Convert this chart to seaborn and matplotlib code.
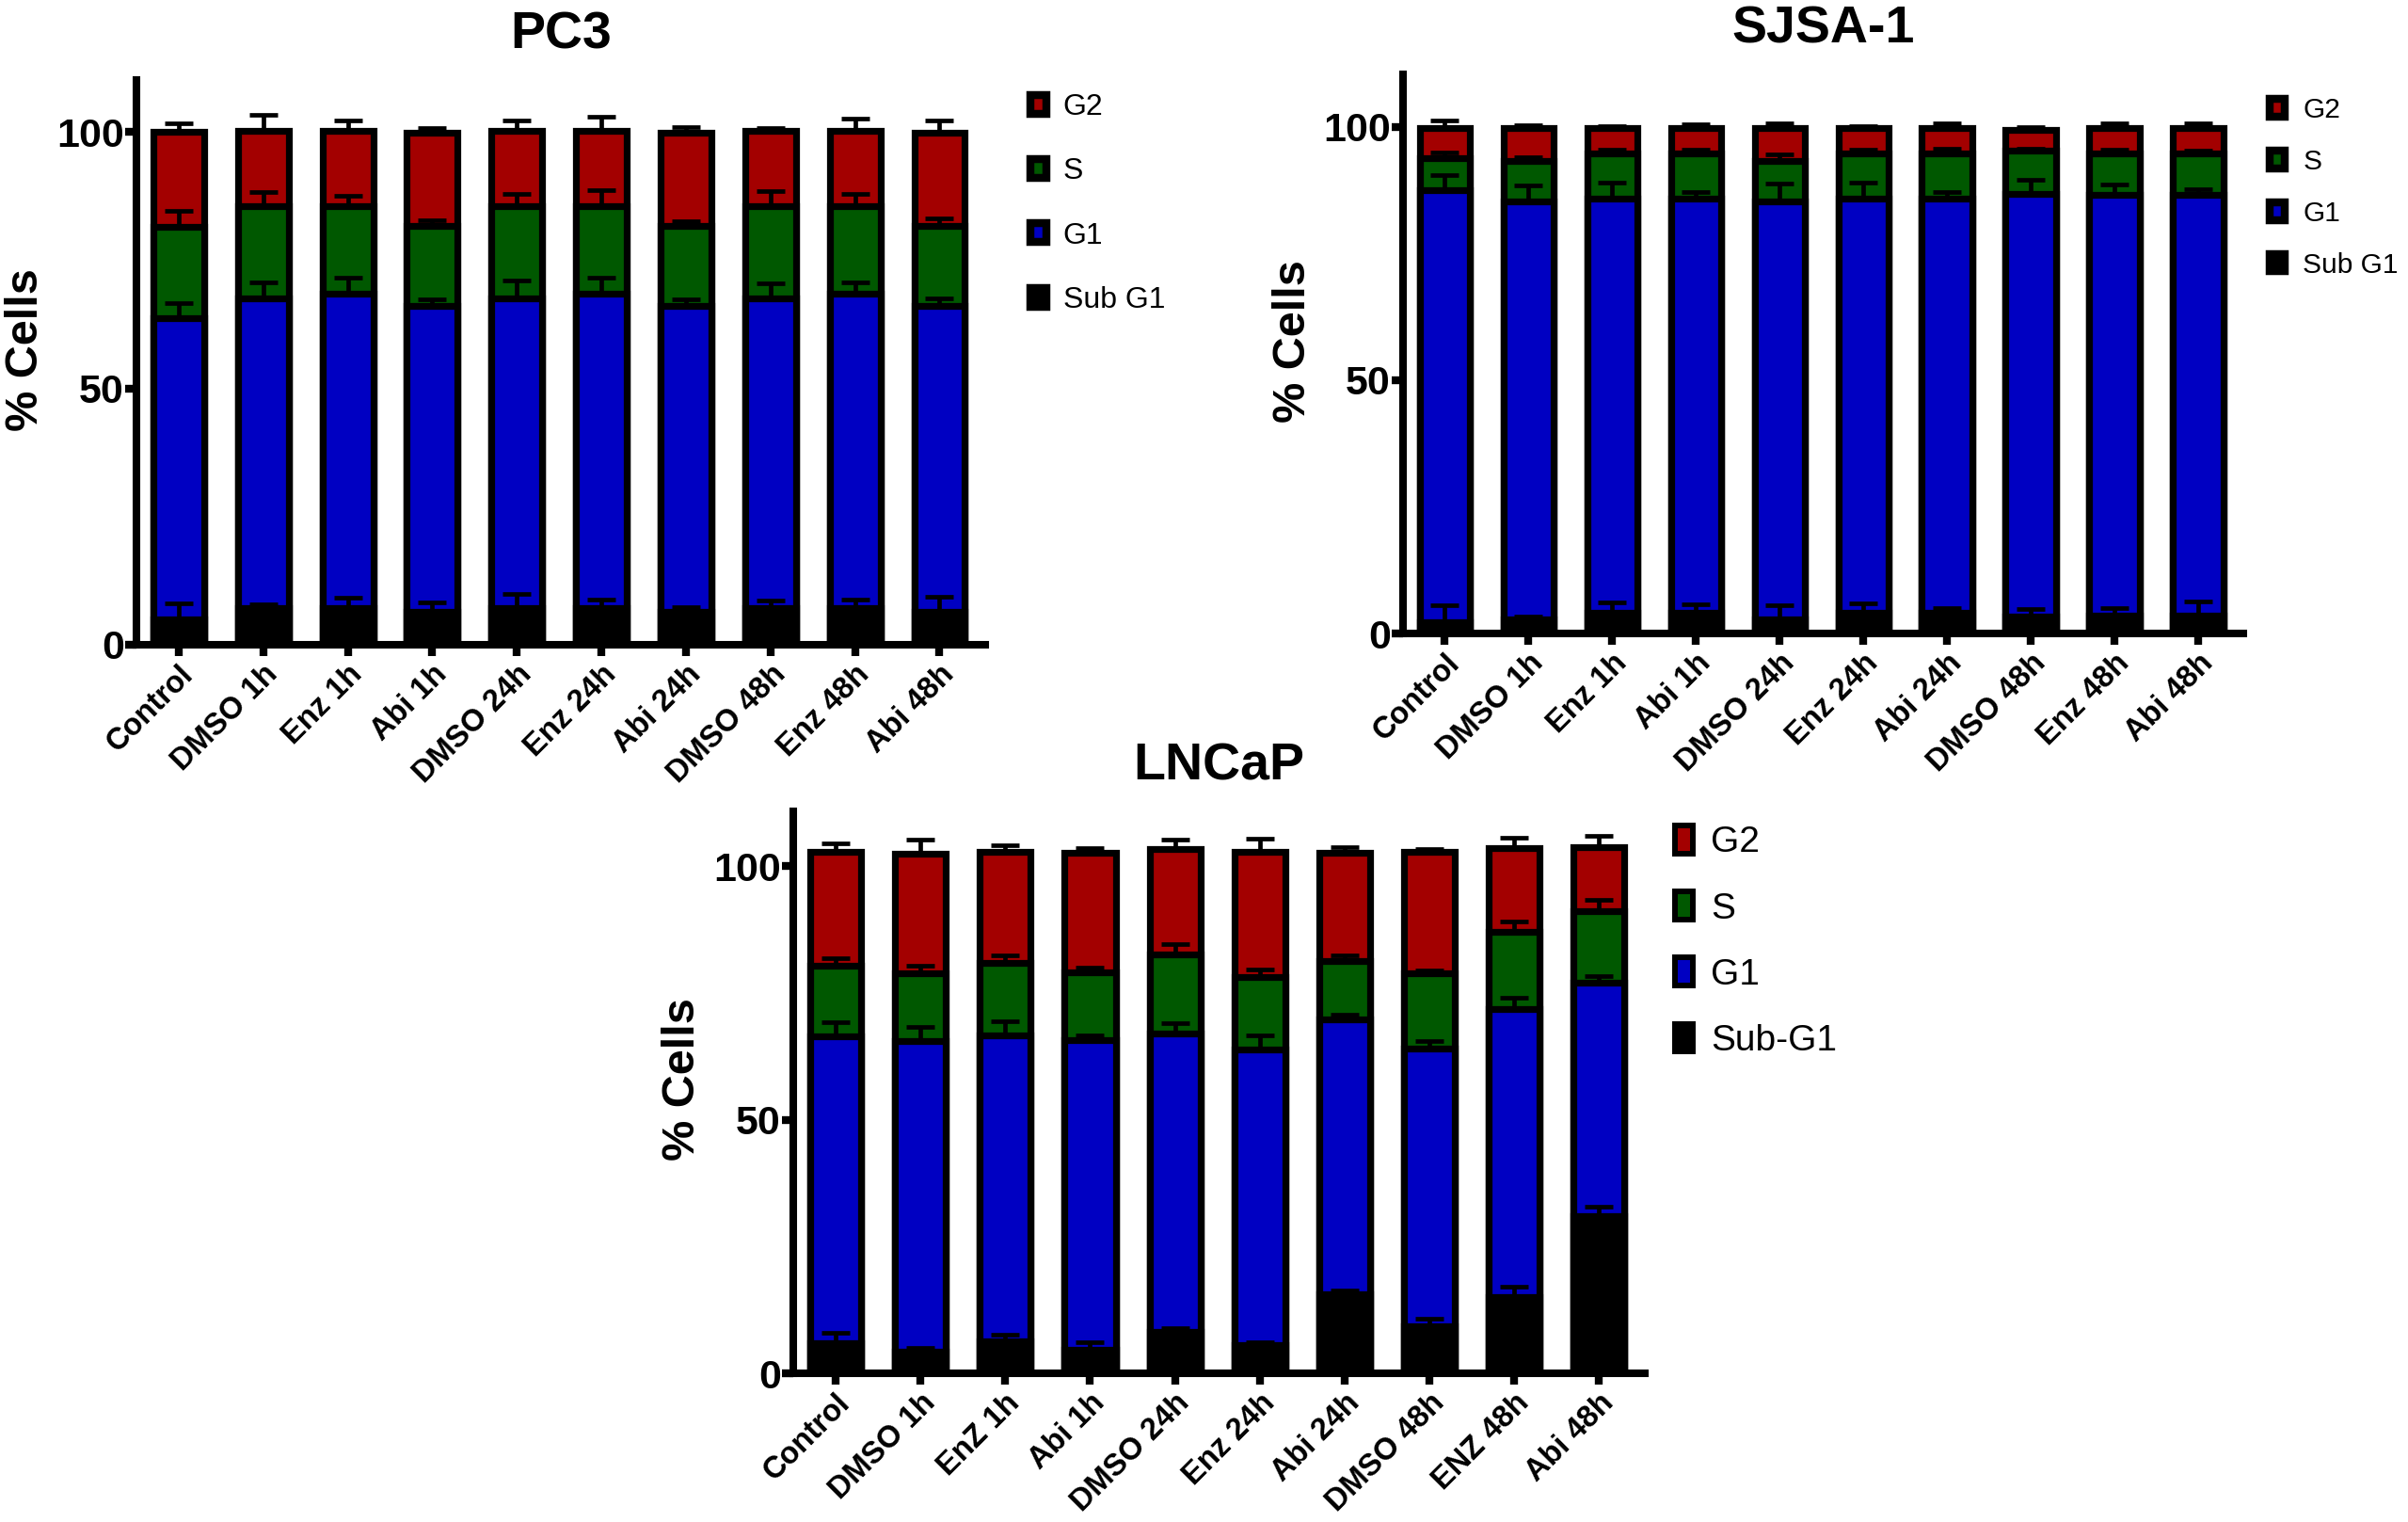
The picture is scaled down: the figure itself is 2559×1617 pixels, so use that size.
import numpy as np
import matplotlib
matplotlib.use("Agg")
import matplotlib.pyplot as plt
from matplotlib.patches import Patch
import seaborn as sns

sns.set_style("ticks")
plt.rcParams["font.family"] = ["Liberation Sans", "DejaVu Sans"]
plt.rcParams["text.color"] = "black"
plt.rcParams["axes.labelcolor"] = "black"
plt.rcParams["xtick.color"] = "black"
plt.rcParams["ytick.color"] = "black"

W, H = 2559, 1617

treatments = ["Control", "DMSO 1h", "Enz 1h", "Abi 1h", "DMSO 24h",
              "Enz 24h", "Abi 24h", "DMSO 48h", "Enz 48h", "Abi 48h"]
lncap_treatments = ["Control", "DMSO 1h", "EnZ 1h", "Abi 1h", "DMSO 24h",
                    "Enz 24h", "Abi 24h", "DMSO 48h", "ENZ 48h", "Abi 48h"]

# ---- PC3: % cells per phase (bottom -> top) and upper error (SEM)
pc3_sub = [4.9, 7.1, 7.1, 6.4, 7.1, 7.1, 6.4, 7.1, 7.1, 6.4]
pc3_g1 = [58.8, 60.5, 61.3, 59.7, 60.5, 61.3, 59.7, 60.5, 61.3, 59.7]
pc3_s = [17.7, 17.9, 17.1, 15.6, 17.9, 17.1, 15.6, 17.9, 17.1, 15.6]
pc3_g2 = [18.6, 14.7, 14.7, 18.2, 14.7, 14.7, 18.2, 14.7, 14.7, 18.2]
pc3_sub_err = [3.1, 0.7, 2.1, 1.8, 2.9, 1.7, 0.9, 1.5, 1.7, 3.0]
pc3_g1_err = [2.9, 3.1, 3.1, 1.3, 3.5, 3.1, 1.3, 2.8, 2.3, 1.5]
pc3_s_err = [3.2, 2.8, 2.0, 1.1, 2.4, 3.1, 0.9, 2.9, 2.4, 1.4]
pc3_g2_err = [1.6, 3.1, 2.1, 0.8, 2.1, 2.8, 1.1, 0.5, 2.3, 2.3]

# ---- SJSA-1
sjsa_sub = [2.3, 2.7, 4.1, 4.1, 2.7, 4.1, 4.1, 3.3, 3.5, 3.5]
sjsa_g1 = [85.3, 82.7, 81.8, 81.8, 82.7, 81.8, 81.8, 83.5, 83.1, 83.1]
sjsa_s = [6.3, 7.9, 8.9, 8.9, 7.9, 8.9, 8.9, 8.5, 8.2, 8.2]
sjsa_g2 = [5.9, 6.5, 5.0, 5.0, 6.5, 5.0, 5.0, 4.2, 5.0, 5.0]
sjsa_sub_err = [3.3, 0.6, 2.1, 1.7, 2.9, 1.9, 0.9, 1.6, 1.6, 2.9]
sjsa_g1_err = [3.0, 3.0, 3.1, 1.2, 3.4, 3.1, 1.2, 2.7, 2.0, 1.2]
sjsa_s_err = [1.0, 0.7, 0.8, 0.7, 1.3, 0.8, 0.9, 0.5, 0.8, 0.6]
sjsa_g2_err = [1.5, 0.5, 0.4, 0.7, 0.9, 0.4, 0.9, 0.5, 0.9, 0.9]

# ---- LNCaP
lncap_sub = [6.0, 4.3, 6.3, 4.6, 8.1, 5.5, 15.5, 9.3, 15.0, 31.0]
lncap_g1 = [60.4, 61.2, 60.4, 61.1, 58.9, 58.3, 54.2, 54.7, 56.9, 46.1]
lncap_s = [13.9, 13.4, 14.2, 13.4, 15.5, 14.3, 11.6, 14.9, 15.1, 14.0]
lncap_g2 = [22.6, 23.6, 21.9, 23.6, 20.8, 24.7, 21.3, 23.9, 16.5, 12.7]
lncap_sub_err = [1.9, 0.8, 1.3, 1.5, 0.8, 0.6, 0.8, 1.4, 2.0, 1.9]
lncap_g1_err = [2.9, 2.8, 2.7, 0.9, 2.1, 2.9, 1.0, 1.6, 2.1, 1.3]
lncap_s_err = [1.5, 1.5, 1.5, 0.8, 2.1, 1.5, 1.1, 0.6, 2.0, 2.3]
lncap_g2_err = [1.5, 2.7, 1.4, 0.9, 1.9, 2.6, 1.1, 0.6, 2.1, 2.1]

# bottom -> top order
phase_colors = ["#000000", "#0000c2", "#005800", "#a30000"]


def draw_panel(ax, labels, phases, errs, title, ymax):
    tops = np.cumsum(np.array(phases), axis=0)
    n = len(labels)

    # overdraw cumulative bars from tallest to shortest -> stacked look
    for i in [3, 2, 1, 0]:
        sns.barplot(x=labels, y=tops[i], color=phase_colors[i], saturation=1,
                    width=0.6, edgecolor="black", linewidth=5.2,
                    errorbar=None, ax=ax)

    xpos = np.arange(n)
    for i in range(4):
        ax.errorbar(xpos, tops[i], yerr=[np.zeros(n), errs[i]], fmt="none",
                    ecolor="black", elinewidth=3.4, capsize=11, capthick=3.4,
                    zorder=5)

    ax.set_xlim(-0.5, 9.54)
    ax.set_ylim(0, ymax)
    ax.set_yticks([0, 50, 100])
    ax.set_yticklabels(["0", "50", "100"], fontsize=31, fontweight="bold")
    ax.set_xticks(xpos)
    ax.set_xticklabels(labels, fontsize=23.5, fontweight="bold", rotation=45,
                       ha="right", va="top", rotation_mode="anchor")
    ax.tick_params(axis="y", length=8.5, width=6, pad=1)
    ax.tick_params(axis="x", length=8.5, width=6, pad=3)
    for side in ["top", "right"]:
        ax.spines[side].set_visible(False)
    for side in ["left", "bottom"]:
        ax.spines[side].set_linewidth(5.8)
        ax.spines[side].set_color("black")
    ax.set_ylabel("% Cells", fontsize=35, fontweight="bold")
    ax.yaxis.set_label_coords(-0.105, 0.523)
    ax.set_xlabel("")
    ax.set_title(title, fontsize=40, fontweight="bold", pad=24)


def add_legend(ax, names, left_px, top_px, fs, hl, hh, lw, ls, tp):
    handles = [Patch(facecolor=c, edgecolor="black", linewidth=lw)
               for c in phase_colors[::-1]]
    ax.legend(handles, names, loc="upper left",
              bbox_to_anchor=(left_px / W, 1 - top_px / H),
              bbox_transform=fig.transFigure, frameon=False, fontsize=fs,
              handlelength=hl, handleheight=hh, labelspacing=ls,
              handletextpad=tp, borderpad=0, borderaxespad=0)


fig = plt.figure(figsize=(W / 100, H / 100), dpi=100)

ax1 = fig.add_axes([145 / W, 1 - 685 / H, 902 / W, 600 / H])
draw_panel(ax1, treatments, [pc3_sub, pc3_g1, pc3_s, pc3_g2],
           [pc3_sub_err, pc3_g1_err, pc3_s_err, pc3_g2_err], "PC3", 110.1)
add_legend(ax1, ["G2", "S", "G1", "Sub G1"], 1095, 99, 23, 0.52, 0.58, 6.1, 1.2, 0.56)

ax2 = fig.add_axes([1491 / W, 1 - 673 / H, 893 / W, 594 / H])
draw_panel(ax2, treatments, [sjsa_sub, sjsa_g1, sjsa_s, sjsa_g2],
           [sjsa_sub_err, sjsa_g1_err, sjsa_s_err, sjsa_g2_err], "SJSA-1", 110.4)
add_legend(ax2, ["G2", "S", "G1", "Sub G1"], 2412, 103, 21.5, 0.55, 0.59, 6.1, 0.9, 0.63)

ax3 = fig.add_axes([843 / W, 1 - 1459 / H, 905 / W, 597 / H])
draw_panel(ax3, lncap_treatments, [lncap_sub, lncap_g1, lncap_s, lncap_g2],
           [lncap_sub_err, lncap_g1_err, lncap_s_err, lncap_g2_err], "LNCaP", 110.8)
add_legend(ax3, ["G2", "S", "G1", "Sub-G1"], 1780, 877, 28, 0.5, 0.8, 4.3, 0.87, 0.48)

fig.savefig("out.png", dpi=100)
